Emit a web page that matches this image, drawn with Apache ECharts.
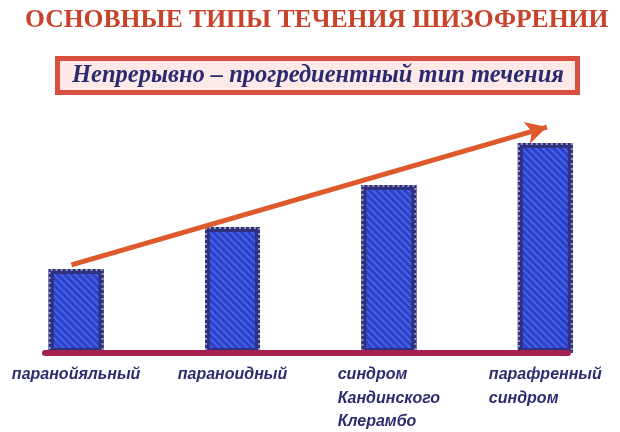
<!DOCTYPE html>
<html>
<head>
<meta charset="utf-8">
<script src="https://cdn.jsdelivr.net/npm/echarts@6/dist/echarts.min.js"></script>
<style>html,body{margin:0;padding:0;background:#fff}#c{width:620px;height:432px}</style>
</head>
<body>
<div id="c"></div>
<script>
const titleText = 'ОСНОВНЫЕ ТИПЫ ТЕЧЕНИЯ ШИЗОФРЕНИИ';
const subtitleText = 'Непрерывно – прогредиентный тип течения';
const categories = ['паранойяльный', 'параноидный', 'синдром\nКандинского\nКлерамбо', 'парафренный\nсиндром'];
const values = [2, 3, 4, 5];
const arrowFrom = [-0.03, 2.1];
const arrowTo = [3.01, 5.38];

const chart = echarts.init(document.getElementById('c'), null, {renderer: 'canvas'});
const barData = values.map((v, i) => [i, v]);
const labelColor = '#2c2c6e';

chart.setOption({
  backgroundColor: '#ffffff',
  animation: false,
  title: [
    {
      text: titleText,
      left: 20,
      top: 2,
      textStyle: {fontFamily: 'Liberation Serif', fontWeight: 'bold', fontSize: 25.6, color: '#c8432b'}
    },
    {
      text: subtitleText,
      left: 57,
      top: 58,
      padding: [5, 14, 5, 15],
      backgroundColor: '#fde9e8',
      borderColor: '#d7503f',
      borderWidth: 5,
      textStyle: {fontFamily: 'Liberation Serif', fontWeight: 'bold', fontStyle: 'italic', fontSize: 24.5, color: '#2a2a70'}
    }
  ],
  grid: {left: 45, right: 52, top: 101, bottom: 79},
  xAxis: {
    type: 'value',
    min: -0.199,
    max: 3.145,
    z: 5,
    axisLine: {show: true, lineStyle: {color: '#a51f50', width: 6}},
    axisTick: {show: false},
    axisLabel: {show: false},
    splitLine: {show: false}
  },
  yAxis: {
    type: 'value', min: 0, max: 6, show: false
  },
  series: [
    {
      type: 'bar',
      data: barData,
      barWidth: 55,
      barGap: '-100%',
      itemStyle: {
        color: '#2a40cc',
        borderColor: '#2f317f',
        borderWidth: 5,
        decal: {
          symbol: 'rect',
          symbolSize: 1,
          dashArrayX: [1, 0],
          dashArrayY: [2, 3],
          rotation: Math.PI / 4,
          color: 'rgba(95,125,240,0.55)'
        }
      },
      label: {
        show: true,
        position: 'bottom',
        distance: 10,
        formatter: p => categories[p.dataIndex].split('\n').map(l => '{l|' + l + '}').join('\n'),
        rich: {
          l: {align: 'left', fontFamily: 'Liberation Sans', fontWeight: 'bold', fontStyle: 'italic', fontSize: 16, color: labelColor, lineHeight: 23.5}
        }
      },
      markLine: {
        silent: true,
        symbol: ['none', 'arrow'],
        symbolSize: [17, 21],
        label: {show: false},
        lineStyle: {color: '#de5a2c', width: 5, type: 'solid'},
        data: [[{coord: arrowFrom}, {coord: arrowTo}]]
      }
    },
    {
      type: 'bar',
      data: barData,
      barWidth: 55,
      barGap: '-100%',
      silent: true,
      itemStyle: {
        color: 'rgba(0,0,0,0)',
        borderColor: 'rgba(150,155,195,1)',
        borderWidth: 2,
        borderType: [2, 3]
      }
    }
  ]
});
</script>
</body>
</html>
